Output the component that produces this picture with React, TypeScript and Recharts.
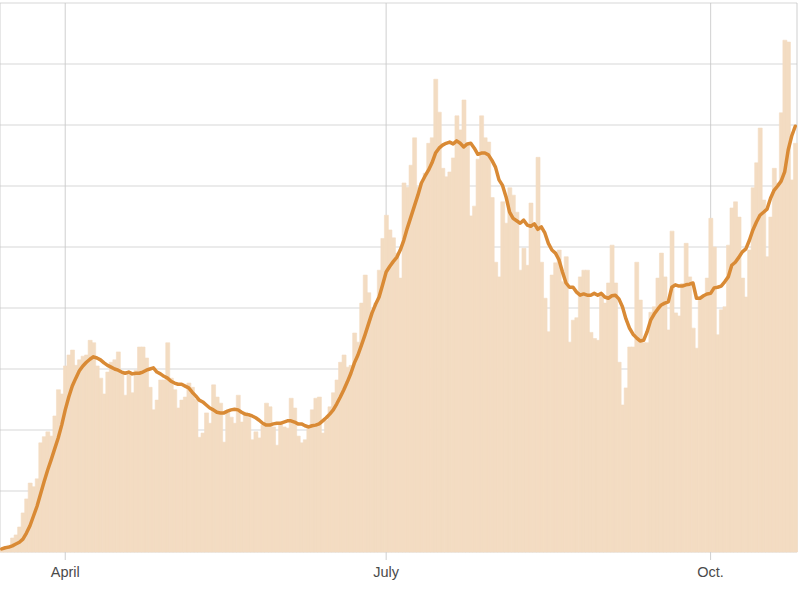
import React from 'react';
import { ComposedChart, Bar, Line, XAxis, YAxis, CartesianGrid } from 'recharts';

const START_DATE = '2020-03-14';

const dailyCases: number[] = [
  6, 8, 11, 23, 28, 41, 64, 87, 113, 107,
  120, 179, 189, 197, 190, 223, 266, 259, 305, 323,
  331, 306, 315, 321, 323, 347, 343, 305, 285, 259,
  295, 311, 315, 328, 295, 257, 295, 261, 298, 336,
  336, 318, 270, 233, 249, 282, 282, 343, 285, 266,
  236, 249, 254, 277, 270, 250, 188, 195, 228, 211,
  274, 254, 244, 180, 229, 221, 211, 257, 213, 229,
  221, 184, 197, 187, 208, 244, 238, 205, 175, 211,
  205, 203, 252, 236, 190, 179, 184, 205, 233, 252,
  254, 195, 216, 238, 261, 282, 311, 323, 303, 306,
  359, 344, 408, 454, 425, 393, 408, 462, 514, 552,
  528, 515, 490, 449, 605, 598, 634, 679, 598, 605,
  621, 670, 679, 775, 721, 629, 615, 623, 646, 715,
  692, 741, 670, 551, 567, 644, 715, 679, 672, 581,
  475, 451, 574, 539, 597, 585, 557, 462, 498, 470,
  572, 531, 647, 475, 416, 361, 454, 474, 495, 443,
  484, 344, 380, 384, 451, 462, 462, 360, 350, 347,
  424, 408, 441, 503, 441, 311, 241, 269, 336, 336,
  475, 413, 343, 343, 393, 402, 449, 490, 451, 364,
  526, 392, 387, 440, 506, 451, 367, 334, 418, 418,
  449, 547, 500, 356, 397, 402, 503, 564, 574, 549,
  449, 418, 495, 597, 638, 695, 577, 484, 549, 629,
  605, 720, 839, 836, 610, 670,
];

const sevenDayAverage: number[] = [
  5, 7, 8, 10, 13, 16, 21, 31, 43, 59,
  75, 95, 115, 134, 151, 169, 187, 208, 233, 254,
  272, 285, 297, 305, 311, 316, 320, 318, 315, 310,
  306, 303, 300, 298, 295, 293, 295, 292, 293, 293,
  295, 298, 300, 302, 295, 292, 288, 285, 280, 277,
  275, 275, 272, 269, 262, 256, 249, 246, 241, 236,
  233, 229, 228, 228, 231, 233, 234, 233, 229, 226,
  225, 223, 220, 216, 211, 208, 208, 210, 211, 211,
  213, 215, 215, 213, 210, 210, 207, 205, 207, 208,
  210, 215, 220, 226, 233, 243, 254, 266, 279, 293,
  310, 323, 339, 356, 374, 392, 406, 418, 438, 459,
  468, 476, 483, 495, 511, 531, 549, 567, 585, 605,
  616, 626, 638, 654, 662, 667, 670, 672, 669, 674,
  670, 664, 669, 670, 662, 652, 654, 654, 651, 642,
  631, 610, 601, 582, 557, 547, 543, 539, 544, 536,
  534, 538, 529, 533, 523, 506, 495, 490, 479, 459,
  441, 434, 434, 426, 421, 423, 421, 421, 424, 421,
  424, 418, 416, 420, 421, 415, 402, 382, 367, 357,
  351, 346, 347, 361, 380, 390, 398, 405, 408, 410,
  434, 438, 436, 436, 438, 439, 441, 416, 416, 420,
  423, 424, 433, 434, 436, 443, 451, 470, 475, 483,
  492, 497, 511, 528, 541, 552, 557, 562, 580, 593,
  600, 608, 623, 659, 682, 698,
];

const tickDates: string[] = ['2020-04-01', '2020-07-01', '2020-10-01'];
const tickLabels: string[] = ['April', 'July', 'Oct.'];
const yTicks: number[] = [0, 100, 200, 300, 400, 500, 600, 700, 800, 900];

function buildDates(start: string, n: number): string[] {
  const out: string[] = [];
  const d = new Date(start + 'T00:00:00Z');
  for (let i = 0; i < n; i++) {
    const c = new Date(d.getTime() + i * 86400000);
    out.push(c.toISOString().slice(0, 10));
  }
  return out;
}

const dates = buildDates(START_DATE, dailyCases.length);
const data = dates.map((date, i) => ({
  date,
  cases: dailyCases[i],
  avg: sevenDayAverage[i],
}));

const LINE_COLOR = '#d98a35';
const BAR_COLOR = '#f3dcc2';

export default function App() {
  return (
    <div style={{ position: 'absolute', left: 0, top: 0, width: 800, height: 600, background: '#fff' }}>
      <ComposedChart
        width={800}
        height={600}
        data={data}
        margin={{ top: 3, right: 3, left: 0, bottom: 8 }}
        barCategoryGap={0}
        barGap={0}
      >
        <CartesianGrid stroke="#e3e3e3" strokeWidth={1.2} />
        <XAxis
          dataKey="date"
          ticks={tickDates}
          interval={0}
          height={40}
          axisLine={false}
          tickSize={8}
          tickMargin={7}
          tickLine={{ stroke: '#cfcfcf' }}
          tick={{ fill: '#4a4a4a', fontSize: 14.5, fontFamily: 'Liberation Sans, Arial, sans-serif' }}
          tickFormatter={(v: string) => {
            const k = tickDates.indexOf(v);
            return k >= 0 ? tickLabels[k] : '';
          }}
        />
        <YAxis hide domain={[0, 900]} ticks={yTicks} />
        <Bar
          dataKey="cases"
          fill={BAR_COLOR}
          stroke={BAR_COLOR}
          strokeWidth={0.6}
          isAnimationActive={false}
        />
        <CartesianGrid stroke="#000" strokeOpacity={0.05} strokeWidth={1.2} />
        <Line
          dataKey="avg"
          type="linear"
          stroke={LINE_COLOR}
          strokeWidth={3.5}
          dot={false}
          activeDot={false}
          strokeLinejoin="round"
          strokeLinecap="round"
          isAnimationActive={false}
        />
      </ComposedChart>
    </div>
  );
}
